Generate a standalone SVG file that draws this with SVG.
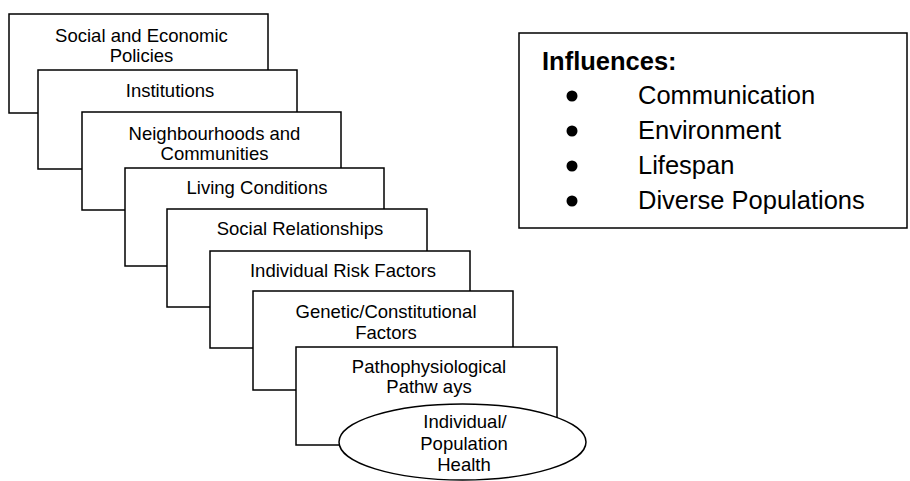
<svg xmlns="http://www.w3.org/2000/svg" width="910" height="481" viewBox="0 0 910 481">
<style>
.box{fill:#fff;stroke:#000;stroke-width:1.5}
.t{font-family:"Liberation Sans",Arial,sans-serif;font-size:18.5px;fill:#000;text-anchor:middle}
.inf{font-family:"Liberation Sans",Arial,sans-serif;font-size:25.5px;fill:#000}
</style>
<rect width="910" height="481" fill="#fff"/>
<g id="connectors"></g>
<g id="n1"><rect class="box" x="9" y="14" width="259" height="99"/><text class="t" x="141.5" y="42">Social and Economic</text><text class="t" x="141.5" y="62">Policies</text></g>
<g id="n2"><rect class="box" x="38" y="70" width="259" height="99"/><text class="t" x="170" y="97">Institutions</text></g>
<g id="n3"><rect class="box" x="82" y="112" width="259" height="98"/><text class="t" x="214.5" y="140">Neighbourhoods and</text><text class="t" x="214.5" y="160">Communities</text></g>
<g id="n4"><rect class="box" x="125" y="168" width="259" height="98"/><text class="t" x="257" y="194">Living Conditions</text></g>
<g id="n5"><rect class="box" x="167" y="209" width="260" height="98"/><text class="t" x="300" y="235">Social Relationships</text></g>
<g id="n6"><rect class="box" x="210" y="251" width="260" height="97"/><text class="t" x="343" y="277">Individual Risk Factors</text></g>
<g id="n7"><rect class="box" x="253" y="291" width="260" height="99"/><text class="t" x="386" y="318">Genetic/Constitutional</text><text class="t" x="386" y="339">Factors</text></g>
<g id="n8"><rect class="box" x="296" y="347" width="261" height="98"/><text class="t" x="429" y="373">Pathophysiological</text><text class="t" x="429" y="393">Pathw ays</text></g>
<g id="n9"><ellipse class="box" cx="462.5" cy="442" rx="123.5" ry="38"/><text class="t" x="465" y="428">Individual/</text><text class="t" x="464" y="450">Population</text><text class="t" x="464" y="471">Health</text></g>
<g id="influences"><rect class="box" x="519" y="33" width="388" height="195"/>
<text class="inf" x="542" y="70" font-weight="bold">Influences:</text>
<circle cx="572" cy="96" r="5.5"/><text class="inf" x="638" y="104">Communication</text>
<circle cx="572" cy="131" r="5.5"/><text class="inf" x="638" y="139">Environment</text>
<circle cx="572" cy="166" r="5.5"/><text class="inf" x="638" y="174">Lifespan</text>
<circle cx="572" cy="201" r="5.5"/><text class="inf" x="638" y="209">Diverse Populations</text>
</g>
</svg>
